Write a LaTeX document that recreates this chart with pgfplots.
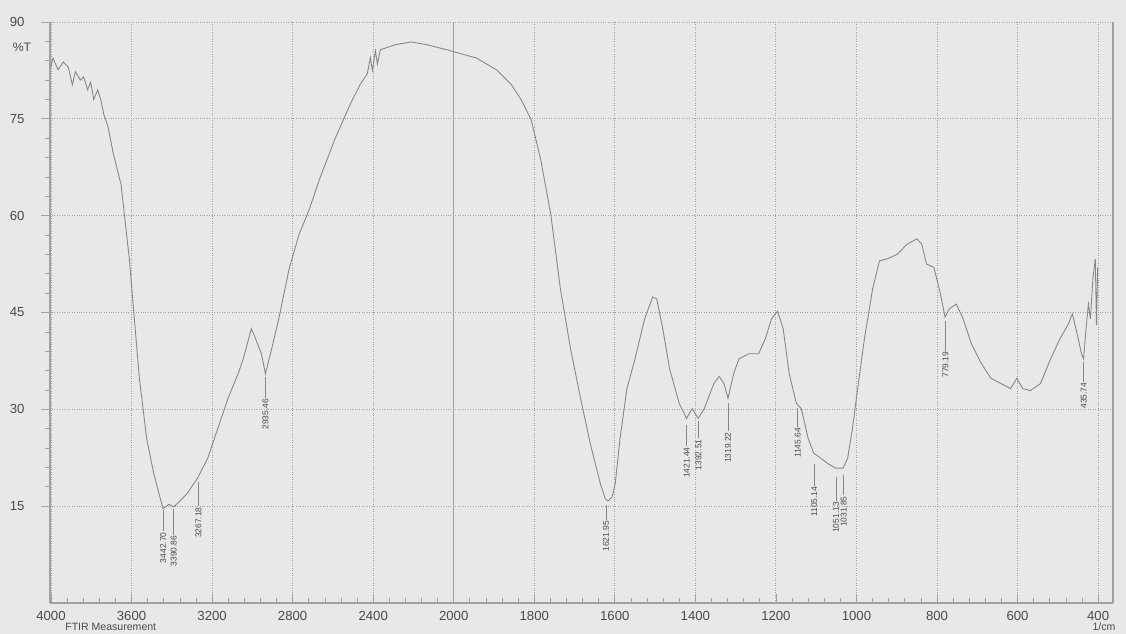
\documentclass[border=0pt]{standalone}
\usepackage{fontspec}
\setmainfont{Liberation Sans}
\usepackage{pgfplots}
\pgfplotsset{compat=1.18}
\usepackage{pgfplotstable}

\definecolor{bg}{HTML}{E8E8E8}
\definecolor{ink}{HTML}{4A4A4A}
\definecolor{trace}{HTML}{868686}
\definecolor{gridc}{HTML}{A0A0A0}

% FTIR trace, wavenumber (1/cm) vs %T
\pgfplotstableread{
x y
4000 83.1
3990 84.4
3965 82.6
3939 83.8
3914 83.0
3894 80.3
3879 82.3
3854 81.0
3838 81.5
3818 79.5
3803 80.7
3788 78.0
3768 79.5
3753 78.0
3737 75.6
3717 73.8
3692 69.8
3652 64.8
3611 53.3
3586 44.0
3561 34.8
3525 25.5
3490 20.1
3460 16.5
3443 14.6
3414 15.3
3391 14.9
3369 15.5
3323 17.0
3273 19.3
3222 22.4
3172 27.0
3121 31.7
3071 35.5
3045 37.8
3005 42.5
2985 41.0
2955 38.6
2935 35.5
2904 39.4
2869 44.0
2818 51.7
2768 57.1
2717 61.0
2667 65.6
2591 71.8
2515 77.2
2465 80.3
2429 82.0
2414 84.5
2404 82.5
2389 85.5
2379 83.5
2364 85.7
2288 86.5
2212 86.9
2136 86.5
2035 85.7
2000 85.4
1943 84.4
1894 82.6
1857 80.3
1833 78.0
1808 74.9
1784 68.7
1759 60.2
1735 48.6
1710 39.4
1685 31.7
1661 24.7
1636 18.5
1624 16.2
1617 15.8
1607 16.4
1599 18.5
1587 25.5
1570 33.2
1550 37.8
1526 44.0
1506 47.4
1496 47.1
1481 42.5
1464 36.3
1440 30.9
1422 28.6
1408 30.1
1393 28.6
1378 30.1
1354 34.0
1341 35.1
1329 34.0
1319 31.7
1305 35.5
1292 37.8
1268 38.6
1243 38.6
1226 41.0
1211 44.0
1196 45.2
1182 42.5
1167 35.5
1149 30.9
1137 30.1
1120 25.5
1106 23.2
1088 22.4
1071 21.6
1052 20.9
1033 20.9
1022 22.4
1010 27.0
997 33.2
980 41.0
960 48.6
943 53.0
924 53.3
899 54.0
874 55.6
850 56.4
838 55.6
826 52.5
808 52.0
794 48.6
780 44.3
769 45.6
752 46.3
735 44.0
715 40.2
690 37.1
666 34.8
641 34.0
617 33.2
602 34.8
587 33.2
568 32.9
543 34.0
518 37.8
494 41.0
474 43.2
464 44.8
452 41.7
442 38.8
436 37.8
430 42.5
424 46.3
419 44.0
413 50.2
407 53.3
404 43.0
401 52.0
}\spectrum

% peak picks: line centre, half length, label top
\pgfplotstableread{
x ym e bot lab
3442.70 12.75 1.65 11.1 3442.70
3390.86 12.60 2.00 10.6 3390.86
3267.18 16.90 1.90 15.0 3267.18
2935.46 33.40 1.60 31.8 2935.46
1621.95 14.05 1.15 12.9 1621.95
1421.44 25.90 1.60 24.3 1421.44
1392.51 26.85 1.35 25.5 1392.51
1319.22 28.80 2.20 26.6 1319.22
1145.64 28.75 1.45 27.3 1145.64
1105.14 19.85 1.65 18.2 1105.14
1051.13 17.65 1.85 15.8 1051.13
1031.85 18.25 1.55 16.7 1031.85
779.19 41.40 2.30 39.1 779.19
435.74 35.80 1.50 34.3 435.74
}\peaks

\begin{document}
\begin{tikzpicture}
\fill[bg] (0,0) rectangle (22.52cm,12.68cm);
\useasboundingbox (0,0) rectangle (22.52cm,12.68cm);
\begin{axis}[
  at={(1.0cm,0.62cm)}, anchor=south west,
  scale only axis, width=21.26cm, height=11.62cm,
  x coord trafo/.code={\pgfmathparse{#1>2000 ? 2000+(#1-2000)/2 : #1}},
  x coord inv trafo/.code={\pgfmathparse{#1>2000 ? 2*#1-2000 : #1}},
  x dir=reverse,
  xmin=363, xmax=4005, ymin=0, ymax=90,
  axis x line*=bottom, axis y line*=box,
  xtick={400,600,800,1000,1200,1400,1600,1800,2000,2400,2800,3200,3600,4000},
  xticklabels={400,600,800,1000,1200,1400,1600,1800,2000,2400,2800,3200,3600,4000},
  ytick={15,30,45,60,75,90},
  minor x tick num=4, minor y tick num=4,
  xtick align=inside, ytick align=outside,
  xtick pos=bottom, ytick pos=left,
  major tick length=5pt, minor tick length=3pt,
  tick style={draw=gridc, thin},
  grid=major,
  major grid style={draw=gridc, densely dotted, line width=0.5pt},
  extra x ticks={2000}, extra x tick labels={},
  extra x tick style={grid=major, major grid style={draw=gridc, solid, line width=0.5pt}},
  axis line style={-, draw=gridc, line width=0.6pt},
  /pgf/number format/assume math mode=true,
  ticklabel style={font=\fontsize{7.5}{8}\selectfont, text=ink},
  xticklabel style={yshift=-1pt},
  yticklabel style={xshift=-6pt},
  clip=false,
]
\addplot[trace, line width=0.5pt] table[x=x, y=y] {\spectrum};
\addplot[draw=none, mark=none,
  error bars/.cd, y dir=both, y explicit, error mark=none,
  error bar style={draw=trace, line width=0.4pt}]
  table[x=x, y=ym, y error=e] {\peaks};
\addplot[draw=none, mark=none, point meta=explicit symbolic,
  nodes near coords={\pgfplotspointmeta},
  nodes near coords style={rotate=90, anchor=east, inner sep=0.5pt,
    font=\fontsize{4.8}{5}\selectfont, text=ink}]
  table[x=x, y=bot, meta=lab] {\peaks};
\end{axis}
\node[text=ink, font=\fontsize{7}{8}\selectfont] at (0.44cm,11.74cm) {\%T};
\node[text=ink, font=\fontsize{6}{7}\selectfont, anchor=north west, inner sep=0pt] at (1.3cm,0.22cm) {FTIR Measurement};
\node[text=ink, font=\fontsize{6}{7}\selectfont, anchor=north, inner sep=0pt] at (22.08cm,0.22cm) {1/cm};
\end{tikzpicture}
\end{document}
